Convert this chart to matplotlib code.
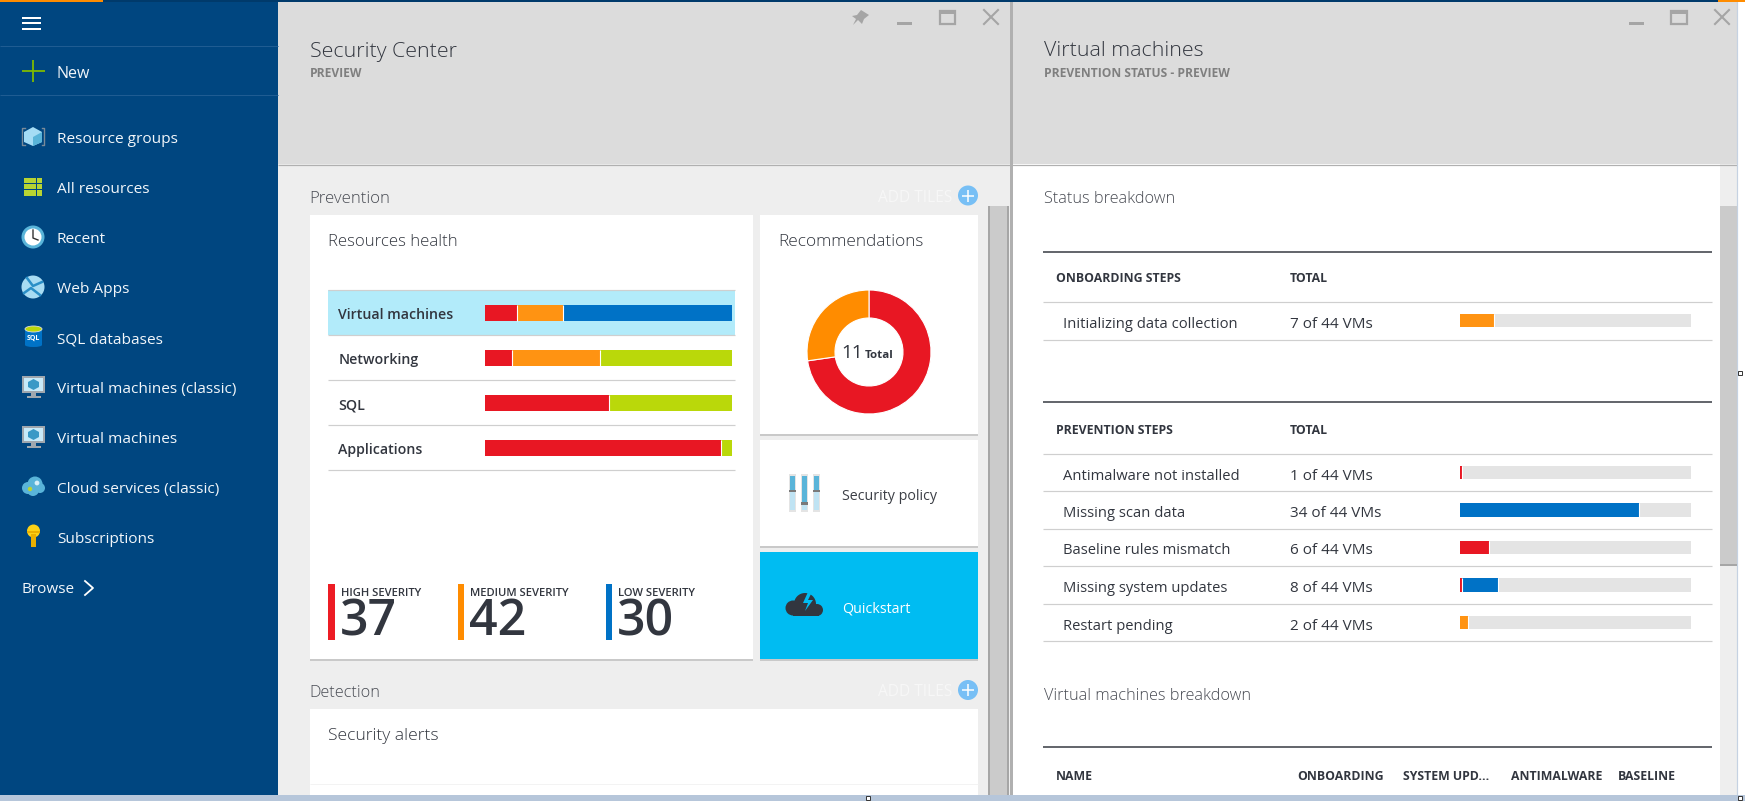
# coding=utf-8
import matplotlib
matplotlib.use("Agg")
import matplotlib.pyplot as plt
from matplotlib.patches import Rectangle, Circle, Polygon, Ellipse

W, H = 1745, 801
FONT = ["Open Sans", "Noto Sans", "DejaVu Sans"]

# colours
RED = "#e81723"
ORANGE = "#ff9312"
BLUE = "#0072c6"
GREEN = "#bad80a"
DARK = "#32363f"
NAVY = "#004680"

# sidebar
nav_items = ["Resource groups", "All resources", "Recent", "Web Apps", "SQL databases",
             "Virtual machines (classic)", "Virtual machines", "Cloud services (classic)",
             "Subscriptions"]

# resources health, share of each row in percent
health_rows = ["Virtual machines", "Networking", "SQL", "Applications"]
health_red = [13.0, 11.0, 50.0, 95.5]
health_orange = [18.5, 35.5, 0, 0]
health_blue = [68.5, 0, 0, 0]
health_green = [0, 53.5, 50.0, 4.5]

severity_labels = ["HIGH SEVERITY", "MEDIUM SEVERITY", "LOW SEVERITY"]
severity_values = [37, 42, 30]

# recommendations donut
rec_values = [8, 3]
rec_total = 11

# status breakdown tables
onboarding_rows = ["Initializing data collection"]
onboarding_totals = ["7 of 44 VMs"]
onboarding_orange = [14.8]

prevention_rows = ["Antimalware not installed", "Missing scan data", "Baseline rules mismatch",
                   "Missing system updates", "Restart pending"]
prevention_totals = ["1 of 44 VMs", "34 of 44 VMs", "6 of 44 VMs", "8 of 44 VMs", "2 of 44 VMs"]
prevention_red = [0.8, 0, 12.6, 0.8, 0]
prevention_orange = [0, 0, 0, 0, 3.5]
prevention_blue = [0, 77.5, 0, 15.6, 0]

vm_columns = ["NAME", "ONBOARDING", "SYSTEM UPD...", "ANTIMALWARE", "BASELINE"]

fig = plt.figure(figsize=(W / 100, H / 100), dpi=100, facecolor="white")
ax = fig.add_axes([0, 0, 1, 1])
ax.set_xlim(0, W)
ax.set_ylim(H, 0)
ax.axis("off")


def rect(x0, y0, x1, y1, color, z=1):
    ax.add_patch(Rectangle((x0, y0), x1 - x0, y1 - y0, fc=color, ec="none", lw=0, zorder=z))


def hline(y, x0, x1, color, px=1.0, z=3):
    ax.plot([x0, x1], [y, y], color=color, lw=px * 0.72, solid_capstyle="butt", zorder=z)


def vline(x, y0, y1, color, px=1.0, z=3):
    ax.plot([x, x], [y0, y1], color=color, lw=px * 0.72, solid_capstyle="butt", zorder=z)


def text(x, y, s, px=15, color=DARK, weight="normal", ha="left"):
    # va center sits about 2px high for this font
    ax.text(x, y + 2, s, fontsize=px * 0.72, color=color, weight=weight, ha=ha, va="center",
            family=FONT, zorder=6)


def px_axes(x0, y0, x1, y1):
    a = fig.add_axes([x0 / W, 1 - y1 / H, (x1 - x0) / W, (y1 - y0) / H])
    a.axis("off")
    a.patch.set_alpha(0)
    return a


def card(x0, y0, x1, y1, color="white"):
    rect(x0, y0 + 2, x1, y1 + 2, "#c9c9c9", 2)
    rect(x0, y0, x1, y1, color, 3)


def stacked(a, rows, series, height):
    # series is a list of (values, colour), drawn left to right with a white hairline after each
    left = [0.0] * rows
    for values, color in series:
        a.barh(range(rows), values, left=left, height=height, color=color, lw=0, zorder=3)
        left = [l + v for l, v in zip(left, values)]
        for i, v in enumerate(values):
            if v > 0 and left[i] < 99.9:
                a.plot([left[i], left[i]], [i - height / 2, i + height / 2], color="white",
                       lw=0.8, solid_capstyle="butt", zorder=4)
    return left


# ---- backgrounds
rect(0, 0, W, 801, "white", 0)
rect(278, 0, 1010, 795, "#eeeeee", 0)
rect(0, 0, 278, 795, NAVY, 1)
rect(278, 1, 1010, 164, "#dcdcdc", 1)
rect(1013, 1, 1737, 164, "#dcdcdc", 1)
hline(164.5, 278, 1737, "#b0b0b0", 1.2)
rect(1010, 0, 1013, 795, "#b0b0b0", 2)
rect(0, 795, W, 801, "#b6c6da", 5)
rect(0, 0, W, 1.5, "#003a6b", 5)
rect(0, 0, 103, 1.5, "#ff8c00", 6)
rect(1718, 0, W, 1.5, "#ff8c00", 6)

# scrollbars
rect(988, 206, 1009, 795, "#cbcbcb", 2)
rect(988, 206, 990, 795, "#a6a6a6", 3)
rect(1007, 206, 1009, 795, "#a6a6a6", 3)
rect(1720, 164, 1737, 795, "#eeeeee", 2)
rect(1720, 206, 1737, 566, "#cbcbcb", 3)
rect(1720, 564, 1737, 566, "#a6a6a6", 4)
vline(1737.5, 1, 795, "#c5d2e2", 1.2)

# resize handles
for hx, hy in [(868, 798), (1740, 798), (1740, 373)]:
    ax.add_patch(Rectangle((hx - 2, hy - 2), 4, 4, fc="white", ec="#333333", lw=0.7, zorder=7))

# ---- sidebar
for y in [17.5, 23, 28.5]:
    hline(y, 22, 41, "white", 2)
hline(45.5, 0, 278, "#1f5c92", 1)
hline(94.5, 0, 278, "#1f5c92", 1)
hline(71, 22, 45, "#7fba00", 1.8, 7)
vline(33.5, 60, 82, "#7fba00", 1.8, 7)
text(57, 72, "New", 16, "#f2f6fa")

for i, item in enumerate(nav_items):
    text(57, 137.5 + i * 50, item, 15.4, "#f2f6fa")
text(22, 587.5, "Browse", 15.2, "#f2f6fa")
ax.plot([85, 93, 85], [581, 588, 595], color="white", lw=1.3, zorder=6)

# resource groups icon
ax.add_patch(Polygon([[33, 127], [42, 132], [42, 142], [33, 146], [24, 142], [24, 132]],
                     fc="#a4dcf5", ec="none", zorder=4))
ax.add_patch(Polygon([[33, 137], [42, 132], [42, 142], [33, 146]], fc="#59b4d9", ec="none", zorder=5))
ax.plot([25, 22.5, 22.5, 25], [128, 128, 145, 145], color="#7a8a99", lw=1, zorder=4)
ax.plot([42, 44.5, 44.5, 42], [128, 128, 145, 145], color="#7a8a99", lw=1, zorder=4)
# all resources icon
for col in range(3):
    for r in range(3):
        rect(24 + col * 6.3, 177.5 + r * 6.3, 29.7 + col * 6.3, 183.2 + r * 6.3, "#b8d432", 4)
# recent icon
ax.add_patch(Circle((33, 237), 11.5, fc="#59b4d9", ec="none", zorder=4))
ax.add_patch(Circle((33, 237), 8.5, fc="white", ec="none", zorder=5))
ax.plot([33, 33, 38], [230, 238, 240], color="#333333", lw=1, zorder=6)
# web apps icon
ax.add_patch(Circle((33, 287), 11.5, fc="#a8dcf3", ec="none", zorder=4))
ax.plot([24, 31, 40], [293, 288, 295], color="#2a8fc7", lw=1.8, zorder=5)
ax.plot([27, 33, 42], [278, 286, 282], color="#2a8fc7", lw=1.8, zorder=5)
# sql icon
rect(25, 329, 42, 345, "#0072c6", 4)
ax.add_patch(Ellipse((33.5, 345), 17, 4, fc="#0072c6", ec="none", zorder=4))
ax.add_patch(Ellipse((33.5, 329), 17, 6, fc="#bad80a", ec="#dddddd", lw=0.6, zorder=5))
text(33.5, 336, "SQL", 7, "white", "bold", "center")
# virtual machine icons
for top in [376, 426]:
    rect(22, top, 45, top + 17, "#a0a7ae", 4)
    rect(24, top + 2, 43, top + 15, "#c8eaf9", 5)
    rect(31, top + 17, 36, top + 20, "#a0a7ae", 4)
    rect(27, top + 20, 41, top + 22, "#a0a7ae", 4)
    ax.add_patch(Polygon([[33.5, top + 3], [39, top + 6], [39, top + 11], [33.5, top + 14],
                          [28, top + 11], [28, top + 6]], fc="#3999c6", ec="none", zorder=6))
# cloud services icon
for cx, cy, r in [(28, 488, 6), (35, 484, 7.5), (40, 488, 5), (33, 490, 6)]:
    ax.add_patch(Circle((cx, cy), r, fc="#59b4d9", ec="none", zorder=4))
ax.add_patch(Circle((37, 483), 2.4, fc="#d7eef9", ec="none", zorder=5))
ax.add_patch(Circle((30, 489), 2.2, fc="#b8d432", ec="none", zorder=5))
# key icon
ax.add_patch(Circle((33.5, 531), 6.5, fc="#fcd116", ec="none", zorder=4))
rect(31, 534, 36, 547, "#eab000", 4)
rect(27, 531, 40, 533, "#eab000", 5)

# ---- left blade header
text(310, 49.5, "Security Center", 21.4, DARK, "light")
text(310, 71.5, "PREVIEW", 12, "#7f7f7f", "bold")
ax.add_patch(Polygon([[861, 10], [869, 15], [864, 19], [862, 24], [858, 20], [853, 25], [856, 19],
                      [852, 16], [857, 15]], fc="#a5a5a5", ec="none", zorder=5))
rect(897, 22, 912, 25, "#a5a5a5", 5)
ax.add_patch(Rectangle((940, 11), 15, 13, fc="none", ec="#a5a5a5", lw=1.6, zorder=5))
rect(939, 10, 956, 14, "#a5a5a5", 5)
ax.plot([984, 998], [10, 24], color="#a5a5a5", lw=1.5, zorder=5)
ax.plot([984, 998], [24, 10], color="#a5a5a5", lw=1.5, zorder=5)

text(309.5, 197, "Prevention", 16.8, "#484b53", "light")
text(309.5, 691, "Detection", 16.3, "#484b53", "light")
for y in [195.5, 690]:
    text(952, y, "ADD TILES", 15.5, "#f7f7f7", ha="right")
    ax.add_patch(Circle((968, y), 10, fc="#77bff5", ec="none", zorder=5))
    hline(y, 962, 974, "white", 1.5, 6)
    vline(968, y - 6, y + 6, "white", 1.5, 6)

# ---- resources health card
card(310, 215, 753, 659)
text(328.5, 240, "Resources health", 16.8, DARK, "light")
rect(328, 290, 735, 335, "#b2ebfa", 4)
for y in [290, 335, 380, 425, 470]:
    hline(y, 328, 735, "#cfcfcf", 1.2, 5)
for i, row in enumerate(health_rows):
    text(338.5, 313 + i * 45, row, 14.1, DARK, "semibold")

ax_health = px_axes(485, 290, 732, 470)
ax_health.set_xlim(0, 100)
ax_health.set_ylim(3.5, -0.5)
stacked(ax_health, len(health_rows),
        [(health_red, RED), (health_orange, ORANGE), (health_blue, BLUE), (health_green, GREEN)],
        16 / 45)

sev_x = [328, 458, 606]
sev_w = [7, 6, 6]
sev_colors = ["#ed1c24", "#ff8c00", BLUE]
for x, w, c, lab, val in zip(sev_x, sev_w, sev_colors, severity_labels, severity_values):
    rect(x, 584, x + w, 640, c, 5)
    text(x + w + 6, 591, lab, 11.2, DARK, "semibold")
    text(x + w + 5, 620, str(val), 50, DARK, "semibold")

# ---- recommendations card
card(760, 215, 978, 434)
text(778, 240, "Recommendations", 17.2, DARK, "light")
ax_rec = px_axes(805, 288, 933, 416)
ax_rec.pie(rec_values, colors=[RED, "#ff8c00"], startangle=90, counterclock=False, radius=62 / 64,
           wedgeprops={"width": 28 / 64, "edgecolor": "white", "linewidth": 0.8})
ax_rec.set_xlim(-1, 1)
ax_rec.set_ylim(-1, 1)
ax_rec.set_aspect("equal")
text(863.5, 351, str(rec_total), 19, DARK, "medium", "right")
text(865, 354, "Total", 11.5, DARK, "bold")

# ---- security policy and quickstart cards
card(760, 440, 978, 546)
text(842, 494, "Security policy", 14.3, "#3c3f46")
for x, knob in zip([789, 801, 813], [489.5, 502, 489.5]):
    rect(x, 474, x + 7, 512, "#e4e4e4", 4)
    rect(x + 1, 476, x + 6, 510, "#bfe3f3", 5)
    rect(x + 1, 476, x + 6, knob, "#59b4d9", 6)
    rect(x, knob, x + 7, knob + 2.5, "#7a7a7a", 7)

card(760, 552, 978, 659, "#00bcf2")
text(842, 607, "Quickstart", 14.2, "white")
for cx, cy, r in [(793, 608, 7.5), (805, 604, 11), (817, 610, 6)]:
    ax.add_patch(Circle((cx, cy), r, fc=DARK, ec="none", zorder=5))
rect(793, 608, 819, 616, DARK, 5)
ax.add_patch(Polygon([[808, 592], [803, 603], [808, 603], [805, 611], [813, 600], [808, 600], [811, 594]],
                     fc="#00bcf2", ec="none", zorder=6))

# ---- security alerts card
rect(310, 709, 978, 795, "white", 3)
text(328.5, 734, "Security alerts", 17.5, DARK, "light")
hline(784, 310, 978, "#f3f3f3", 1, 4)

# ---- right blade header
text(1044, 49.5, "Virtual machines", 21.4, DARK, "light")
text(1044, 71.5, "PREVENTION STATUS - PREVIEW", 12, "#7f7f7f", "bold")
rect(1629, 22, 1644, 25, "#a5a5a5", 5)
ax.add_patch(Rectangle((1671, 11), 16, 13, fc="none", ec="#a5a5a5", lw=1.6, zorder=5))
rect(1670, 10, 1688, 14, "#a5a5a5", 5)
ax.plot([1715, 1729], [10, 24], color="#a5a5a5", lw=1.5, zorder=5)
ax.plot([1715, 1729], [24, 10], color="#a5a5a5", lw=1.5, zorder=5)

text(1044, 197, "Status breakdown", 16.3, "#484b53", "light")
text(1044, 694, "Virtual machines breakdown", 16.3, "#484b53", "light")

# ---- onboarding table
hline(252, 1043, 1712, DARK, 1.5)
text(1056, 277, "ONBOARDING STEPS", 12.2, DARK, "bold")
text(1290, 277, "TOTAL", 12.2, DARK, "bold")
hline(302, 1043, 1712, "#cfcfcf", 1.2)
hline(340, 1043, 1712, "#cfcfcf", 1.2)
text(1063, 323, onboarding_rows[0], 14.8)
text(1290, 323, onboarding_totals[0], 15.2)

ax_on = px_axes(1460, 302, 1691, 340)
ax_on.set_xlim(0, 100)
ax_on.set_ylim(0.5, -0.5)
ax_on.barh([0], [100], height=13 / 38, color="#e4e4e4", lw=0, zorder=1)
stacked(ax_on, 1, [(onboarding_orange, ORANGE)], 13 / 38)

# ---- prevention table
hline(402, 1043, 1712, DARK, 1.5)
text(1056, 429, "PREVENTION STEPS", 12.2, DARK, "bold")
text(1290, 429, "TOTAL", 12.2, DARK, "bold")
row_lines = [454, 491, 529, 566, 604, 641]
for y in row_lines:
    hline(y, 1043, 1712, "#cfcfcf", 1.2)
for i, (row, total) in enumerate(zip(prevention_rows, prevention_totals)):
    y = (row_lines[i] + row_lines[i + 1]) / 2
    text(1063, y + 1.5, row, 14.8)
    text(1290, y + 1.5, total, 15.2)

ax_pr = px_axes(1460, 454, 1691, 641)
ax_pr.set_xlim(0, 100)
ax_pr.set_ylim(4.5, -0.5)
ax_pr.barh(range(5), [100] * 5, height=13.5 / 37.4, color="#e4e4e4", lw=0, zorder=1)
stacked(ax_pr, 5, [(prevention_red, RED), (prevention_orange, ORANGE), (prevention_blue, BLUE)], 13.5 / 37.4)

# ---- virtual machines table header
hline(747, 1043, 1712, DARK, 1.5)
for x, col in zip([1056, 1297, 1403.5, 1511, 1618], vm_columns):
    text(x, 774, col, 12.2, DARK, "bold")

fig.savefig("out.png", dpi=100)
